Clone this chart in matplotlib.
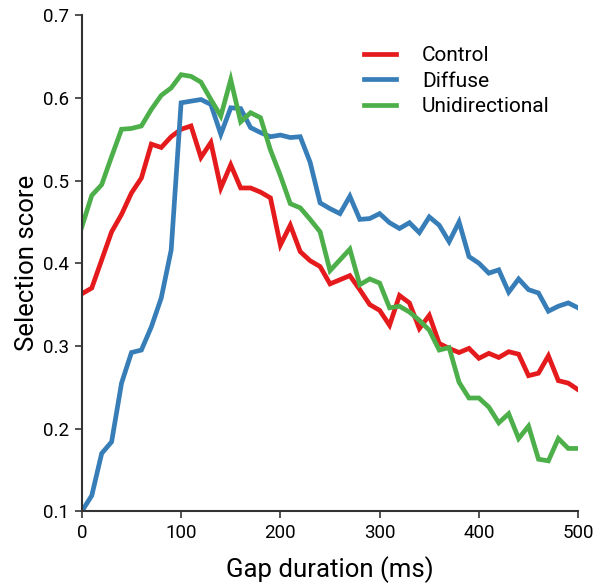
import matplotlib
matplotlib.use("Agg")
import matplotlib.pyplot as plt
import numpy as np

gap_ms = list(range(0, 501, 10))

control = [0.363, 0.370, 0.404, 0.438, 0.459, 0.485, 0.503, 0.544, 0.540, 0.553,
           0.562, 0.566, 0.528, 0.546, 0.491, 0.519, 0.491, 0.491, 0.486, 0.479,
           0.422, 0.446, 0.414, 0.403, 0.396, 0.375, 0.380, 0.385, 0.368, 0.350,
           0.343, 0.325, 0.361, 0.352, 0.321, 0.337, 0.303, 0.297, 0.292, 0.297,
           0.285, 0.291, 0.286, 0.293, 0.290, 0.264, 0.267, 0.288, 0.258, 0.255,
           0.247]

diffuse = [0.100, 0.119, 0.170, 0.184, 0.255, 0.292, 0.295, 0.323, 0.358, 0.416,
           0.594, 0.596, 0.598, 0.592, 0.556, 0.588, 0.587, 0.564, 0.558, 0.553,
           0.555, 0.552, 0.553, 0.522, 0.473, 0.466, 0.460, 0.481, 0.453, 0.454,
           0.460, 0.449, 0.442, 0.449, 0.437, 0.456, 0.446, 0.426, 0.450, 0.408,
           0.400, 0.388, 0.392, 0.365, 0.381, 0.368, 0.364, 0.342, 0.348, 0.352,
           0.346]

unidirectional = [0.444, 0.482, 0.495, 0.529, 0.562, 0.563, 0.566, 0.586, 0.603, 0.612,
                  0.628, 0.626, 0.619, 0.598, 0.578, 0.622, 0.571, 0.582, 0.576, 0.537,
                  0.506, 0.472, 0.467, 0.453, 0.438, 0.391, 0.404, 0.417, 0.374, 0.381,
                  0.376, 0.346, 0.348, 0.341, 0.331, 0.319, 0.295, 0.298, 0.256, 0.237,
                  0.237, 0.226, 0.207, 0.218, 0.188, 0.203, 0.163, 0.161, 0.188, 0.176,
                  0.176]

series_names = ["Control", "Diffuse", "Unidirectional"]
colors = ["#e41a1c", "#377eb8", "#4daf4a"]
xticks = [0, 100, 200, 300, 400, 500]
yticks = [0.1, 0.2, 0.3, 0.4, 0.5, 0.6, 0.7]

plt.rcParams['font.family'] = ['Roboto', 'DejaVu Sans']

fig = plt.figure(figsize=(5.93, 5.83), dpi=100)
ax = fig.add_axes([0.138, 0.123, 0.837, 0.851])

for name, vals, c in zip(series_names, [control, diffuse, unidirectional], colors):
    ax.plot(gap_ms, vals, color=c, lw=3.4, label=name, solid_joinstyle='miter')

ax.set_xlim(0, 500)
ax.set_ylim(0.1, 0.7)
ax.set_xticks(xticks)
ax.set_yticks(yticks)
ax.set_yticklabels([f"{t:.1f}" for t in yticks])
ax.tick_params(labelsize=13.5, length=5, width=1.2, color="#333333", pad=4)
for s in ["top", "right"]:
    ax.spines[s].set_visible(False)
for s in ["left", "bottom"]:
    ax.spines[s].set_color("#333333")
    ax.spines[s].set_linewidth(1.5)

ax.set_xlabel("Gap duration (ms)", fontsize=18.5, labelpad=10)
ax.set_ylabel("Selection score", fontsize=18.5, labelpad=3)

leg = ax.legend(loc="upper left", bbox_to_anchor=(0.53, 0.975), frameon=False,
                fontsize=15, handlelength=1.55, handletextpad=1.25, labelspacing=0.3)

fig.savefig("out.png", dpi=100)
